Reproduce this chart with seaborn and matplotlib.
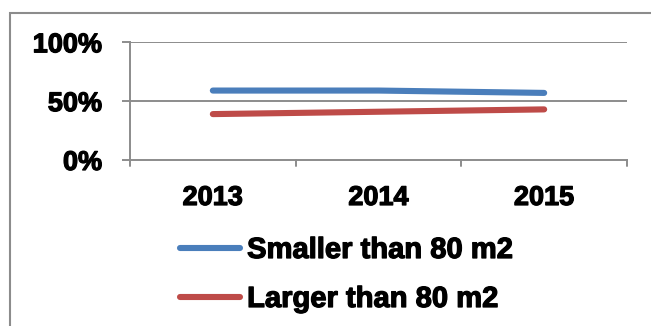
import matplotlib
matplotlib.use("Agg")
import matplotlib.pyplot as plt
import matplotlib.patheffects as pe
import seaborn as sns
import pandas as pd
from matplotlib.patches import Rectangle

years = ["2013", "2014", "2015"]
smaller = [59, 59, 57]
larger = [39, 41, 43]
series_names = ["Smaller than 80 m2", "Larger than 80 m2"]
colors = ["#4A7EBB", "#BE4B48"]
y_ticks = [0, 50, 100]
y_tick_labels = ["0%", "50%", "100%"]

df = pd.DataFrame({
    "year": years * 2,
    "share": smaller + larger,
    "type": [series_names[0]] * 3 + [series_names[1]] * 3,
})

sns.set_style("white")
plt.rcParams["font.family"] = ["Liberation Sans", "DejaVu Sans"]
plt.rcParams["font.weight"] = "bold"
plt.rcParams["text.color"] = "black"
plt.rcParams["xtick.color"] = "black"
plt.rcParams["ytick.color"] = "black"

heavy = [pe.withStroke(linewidth=0.9, foreground="black")]

W, H = 651, 326
fig = plt.figure(figsize=(W / 100, H / 100), dpi=100)
ax = fig.add_axes([130 / W, 1 - 160 / H, (627 - 130) / W, (160 - 42.3) / H])

sns.lineplot(data=df, x="year", y="share", hue="type", palette=colors,
             linewidth=4.4, ax=ax, legend=False, sort=False)
for ln in ax.lines:
    ln.set_solid_capstyle("round")
    ln.set_clip_on(False)

grid_c = "#8c8c8c"
ax.set_xlim(-0.5, 2.5)
ax.set_ylim(0, 100)
ax.set_yticks(y_ticks)
ax.set_yticklabels(y_tick_labels, fontsize=19.5, fontweight="bold", color="black")
ax.set_xticks([0, 1, 2])
ax.set_xticklabels(years, fontsize=19.5, fontweight="bold", color="black")
ax.set_xlabel("")
ax.set_ylabel("")
for t in ax.get_xticklabels() + ax.get_yticklabels():
    t.set_path_effects(heavy)

# horizontal gridlines
for v in y_ticks[1:]:
    ax.axhline(v, color=grid_c, linewidth=1.4, zorder=0)

for side in ["top", "right"]:
    ax.spines[side].set_visible(False)
for side in ["left", "bottom"]:
    ax.spines[side].set_color(grid_c)
    ax.spines[side].set_linewidth(1.4)

# category boundary ticks on the x axis
ax.tick_params(axis="x", length=0, pad=18)
ax.tick_params(axis="y", length=6, width=1.4, color=grid_c, pad=14, direction="out", left=True)
for b in [-0.5, 0.5, 1.5, 2.5]:
    ax.plot([b, b], [0, -5], color=grid_c, linewidth=1.4, clip_on=False,
            transform=ax.transData)

# legend entries
handles = [plt.Line2D([], [], color=c, linewidth=4.4, solid_capstyle="round") for c in colors]
leg = fig.legend(handles, series_names, loc="upper left",
                 bbox_to_anchor=(180 / W, 1 - 236 / H), frameon=False,
                 prop={"size": 21, "weight": "bold"},
                 handlelength=2.05, handletextpad=0.25, labelspacing=0.72,
                 borderaxespad=0, borderpad=0)
for t in leg.get_texts():
    t.set_color("black")
    t.set_path_effects(heavy)

# outer chart border
fig.patches.append(Rectangle((10 / W, -0.1), 1.2, 1 - 13 / H + 0.1,
                             transform=fig.transFigure, fill=False,
                             edgecolor=grid_c, linewidth=1.5))

fig.savefig("out.png", dpi=100)
